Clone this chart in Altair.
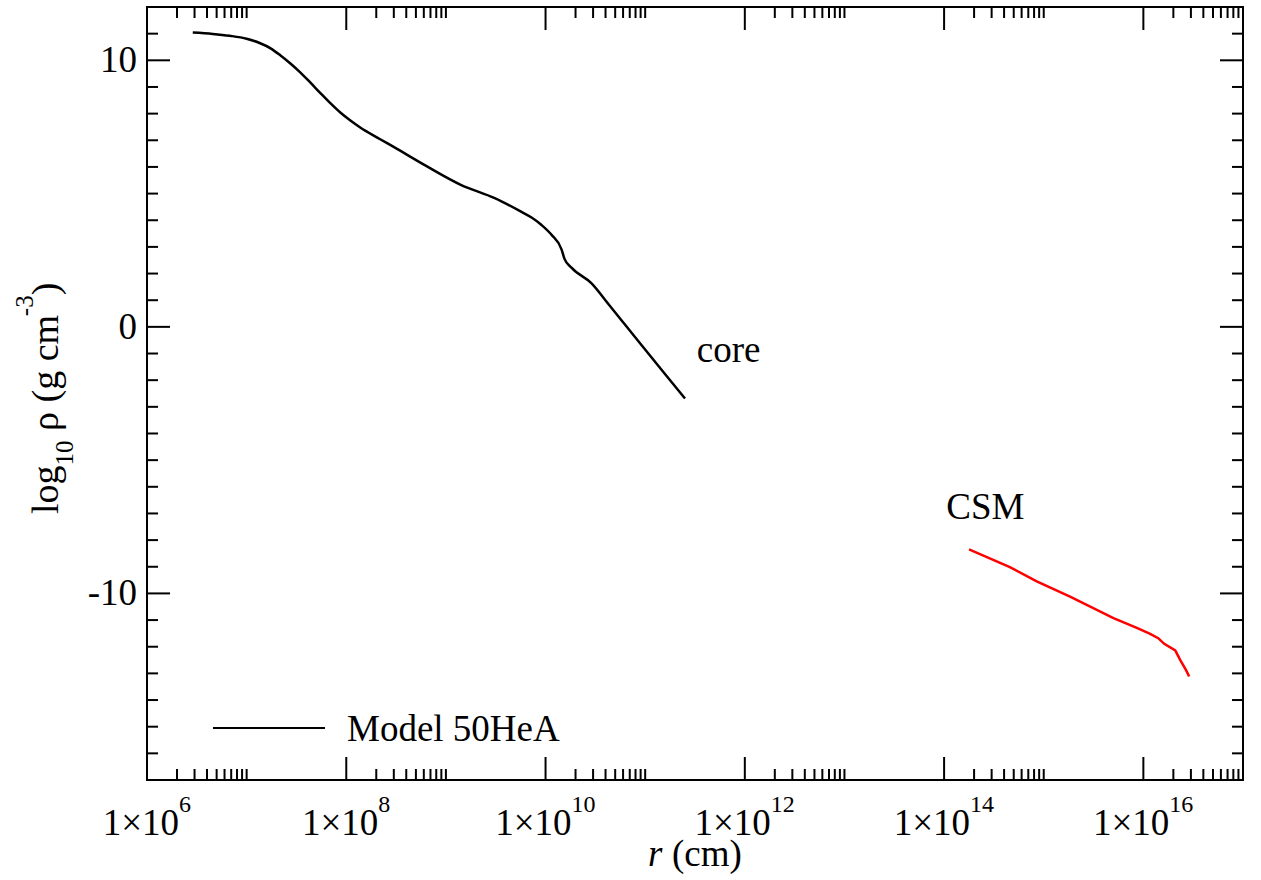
import altair as alt
import pandas as pd

# ---------------- data ----------------
core_r = [2.88e6, 4.57e6, 6.76e6, 1.0e7, 1.35e7, 1.74e7, 2.19e7, 2.75e7, 3.47e7,
          4.37e7, 5.50e7, 6.92e7, 8.71e7, 1.10e8, 1.38e8, 2.19e8, 3.02e8, 6.46e8,
          1.41e9, 3.09e9, 5.62e9, 7.24e9, 9.12e9, 1.15e10, 1.45e10, 1.55e10,
          1.82e10, 2.88e10, 4.27e10, 5.75e10, 8.51e10, 1.58e11, 2.51e11]
core_rho = [11.04, 10.99, 10.92, 10.81, 10.65, 10.45, 10.18, 9.88, 9.54,
            9.16, 8.77, 8.39, 8.04, 7.74, 7.48, 7.04, 6.74, 6.02,
            5.33, 4.83, 4.33, 4.10, 3.82, 3.45, 2.90, 2.55,
            2.22, 1.64, 0.86, 0.26, -0.53, -1.77, -2.69]

csm_r = [1.78e14, 4.57e14, 8.51e14, 1.86e15, 5.01e15, 8.71e15, 1.17e16,
         1.41e16, 1.62e16, 2.09e16, 2.34e16, 2.69e16, 2.88e16]
csm_rho = [-8.35, -9.01, -9.55, -10.13, -10.93, -11.30, -11.52,
           -11.68, -11.89, -12.14, -12.49, -12.89, -13.12]

x_major_exps = [6, 8, 10, 12, 14, 16]
x_minor_mults = [2, 3, 4, 5, 6, 7, 8, 9, 10]
y_major = [-10, 0, 10]
y_minor = [v for v in range(-16, 12) if v not in y_major]
y_labels = ["-10", "0", "10"]
x_label_base = "1×10"

annot_text = ["core", "CSM"]
annot_r = [3.3e11, 1.05e14]
annot_rho = [-1.31, -7.2]

legend_label = "Model 50HeA"

# ---------------- layout / style ----------------
W, H = 1096, 773
FONT = "Liberation Serif"
FS = 37
FS_SMALL = 24
MAJ, MIN = 23, 11

xs = alt.Scale(type="log", domain=[1e6, 1e17], nice=False)
ys = alt.Scale(domain=[-17, 12], nice=False, zero=False)

core_df = pd.DataFrame({"r": core_r, "rho": core_rho})
csm_df = pd.DataFrame({"r": csm_r, "rho": csm_rho})

x_major_vals = [10.0 ** e for e in x_major_exps]
x_minor_vals = [m * 10.0 ** e for e in x_major_exps for m in x_minor_mults]

layers = []

# curves
layers.append(alt.Chart(core_df).mark_line(color="black", strokeWidth=2.5, interpolate="monotone").encode(
    x=alt.X("r:Q", scale=xs, axis=None), y=alt.Y("rho:Q", scale=ys, axis=None)))
layers.append(alt.Chart(csm_df).mark_line(color="#ff0000", strokeWidth=2.5).encode(
    x=alt.X("r:Q", scale=xs, axis=None), y=alt.Y("rho:Q", scale=ys, axis=None)))

# ticks
def xticks(vals, length):
    df = pd.DataFrame({"v": vals})
    bot = alt.Chart(df).mark_rule(color="black", strokeWidth=2).encode(
        x=alt.X("v:Q", scale=xs, axis=None), y=alt.value(H), y2=alt.value(H - length))
    top = alt.Chart(df).mark_rule(color="black", strokeWidth=2).encode(
        x=alt.X("v:Q", scale=xs, axis=None), y=alt.value(0), y2=alt.value(length))
    return [bot, top]

def yticks(vals, length):
    df = pd.DataFrame({"v": vals})
    left = alt.Chart(df).mark_rule(color="black", strokeWidth=2).encode(
        y=alt.Y("v:Q", scale=ys, axis=None), x=alt.value(0), x2=alt.value(length))
    right = alt.Chart(df).mark_rule(color="black", strokeWidth=2).encode(
        y=alt.Y("v:Q", scale=ys, axis=None), x=alt.value(W), x2=alt.value(W - length))
    return [left, right]

layers += xticks(x_major_vals, MAJ) + xticks(x_minor_vals, MIN)
layers += yticks(y_major, MAJ) + yticks(y_minor, MIN)

# x tick labels: "1×10" + superscript exponent
for nd, dx in [(1, 32), (2, 26)]:
    exps = [e for e in x_major_exps if len(str(e)) == nd]
    df = pd.DataFrame({"v": [10.0 ** e for e in exps], "base": [x_label_base] * len(exps),
                       "sup": [str(e) for e in exps]})
    layers.append(alt.Chart(df).mark_text(font=FONT, fontSize=FS, align="right", baseline="alphabetic",
                                          dx=dx, color="black").encode(
        x=alt.X("v:Q", scale=xs, axis=None), y=alt.value(H + 55), text="base:N"))
    layers.append(alt.Chart(df).mark_text(font=FONT, fontSize=FS_SMALL, align="left", baseline="alphabetic",
                                          dx=dx, color="black").encode(
        x=alt.X("v:Q", scale=xs, axis=None), y=alt.value(H + 32), text="sup:N"))

# y tick labels
ylab_df = pd.DataFrame({"v": y_major, "t": y_labels})
layers.append(alt.Chart(ylab_df).mark_text(font=FONT, fontSize=FS, align="right", baseline="middle",
                                           dy=1, color="black").encode(
    y=alt.Y("v:Q", scale=ys, axis=None), x=alt.value(-10), text="t:N"))

# x axis title: italic r + (cm)
layers.append(alt.Chart(pd.DataFrame({"t": ["r"]})).mark_text(
    font=FONT, fontSize=FS, fontStyle="italic", align="left", baseline="alphabetic", color="black").encode(
    x=alt.value(501), y=alt.value(H + 86), text="t:N"))
layers.append(alt.Chart(pd.DataFrame({"t": ["(cm)"]})).mark_text(
    font=FONT, fontSize=FS, align="left", baseline="alphabetic", color="black").encode(
    x=alt.value(525), y=alt.value(H + 86), text="t:N"))

# y axis title composed of pieces, rotated (gap = leading space width)
FT = 38
FST = 25
base_x = -89
pieces = [("log", FT, 0, 0, 1.278 * FT), ("10", FST, 15, 0, 1.0 * FST),
          ("ρ (g cm", FT, 0, 0.25 * FT, 3.02 * FT), ("-3", FST, -25, 0, 0.833 * FST),
          (")", FT, 0, 0, 0.333 * FT)]
ypos = 514 - 7
for txt, fs, shift, gap, wdt in pieces:
    ypos -= gap
    layers.append(alt.Chart(pd.DataFrame({"t": [txt]})).mark_text(
        font=FONT, fontSize=fs, angle=270, align="left", baseline="alphabetic", color="black").encode(
        x=alt.value(base_x + shift), y=alt.value(ypos), text="t:N"))
    ypos -= wdt

# annotations
ann_df = pd.DataFrame({"r": annot_r, "rho": annot_rho, "t": annot_text})
layers.append(alt.Chart(ann_df).mark_text(font=FONT, fontSize=FS, align="left", baseline="alphabetic",
                                          color="black").encode(
    x=alt.X("r:Q", scale=xs, axis=None), y=alt.Y("rho:Q", scale=ys, axis=None), text="t:N"))

# legend
layers.append(alt.Chart(pd.DataFrame({"s": [legend_label]})).mark_rule(color="black", strokeWidth=2).encode(
    x=alt.value(66), x2=alt.value(178), y=alt.value(721)))
layers.append(alt.Chart(pd.DataFrame({"s": [legend_label]})).mark_text(
    font=FONT, fontSize=FS, align="left", baseline="alphabetic", color="black").encode(
    x=alt.value(200), y=alt.value(734), text="s:N"))

chart = alt.layer(*layers).properties(
    width=W, height=H,
    padding={"left": 147, "top": 7, "right": 18, "bottom": 100},
    autosize="none",
    background="white",
).configure_view(stroke="black", strokeWidth=2)

chart.save("out.html", embed_options={"renderer": "svg", "actions": False})
